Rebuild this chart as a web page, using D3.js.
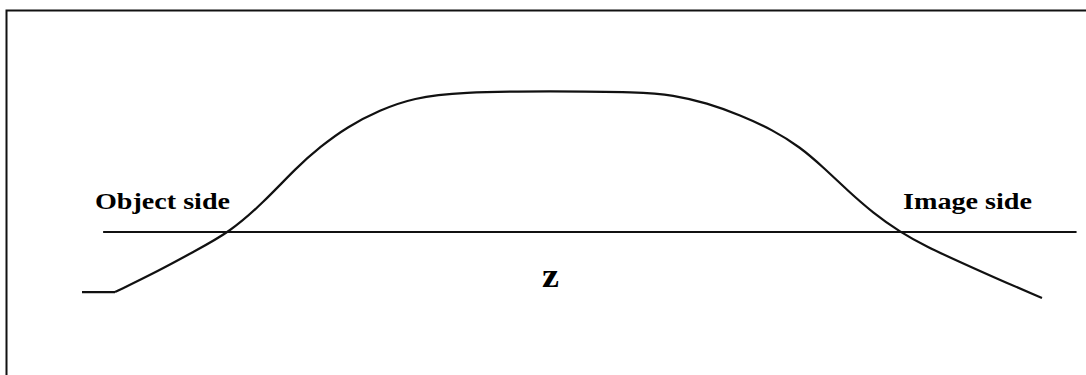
<!DOCTYPE html>
<html>
<head>
<meta charset="utf-8">
<script src="https://cdn.jsdelivr.net/npm/d3@7"></script>
<style>
  html, body { margin: 0; padding: 0; background: #fff; }
  svg { display: block; }
</style>
</head>
<body>
<div id="chart"></div>
<script>
// profile along z (0 = axis level, 1 = plateau)
var zVals = [0, 3.44, 8.13, 11.56, 15.42, 18.85, 22.40, 24.79, 27.60, 31.04, 34.48, 39.38,
             48.75, 58.13, 61.56, 65.10, 68.54, 71.98, 74.79, 77.19, 79.69, 82.40, 85.21,
             88.02, 91.46, 94.90, 100];
var fVals = [-0.426, -0.426, -0.270, -0.142, 0, 0.206, 0.461, 0.603, 0.745, 0.865, 0.950, 0.993,
             1, 0.993, 0.972, 0.915, 0.830, 0.723, 0.603, 0.461, 0.298, 0.135, 0,
             -0.106, -0.213, -0.319, -0.468];
var axisExtent = [2.2, 103.6];
var labels = ["Object side", "Image side", "z"];

var width = 1086, height = 375;

var svg = d3.select("#chart")
  .append("svg")
  .attr("width", width)
  .attr("height", height);

svg.append("rect")
  .attr("width", width)
  .attr("height", height)
  .attr("fill", "#fff");

// frame (only top and left edges show in the picture)
svg.append("rect")
  .attr("x", 6.5)
  .attr("y", 10.5)
  .attr("width", width + 20)
  .attr("height", height + 20)
  .attr("fill", "none")
  .attr("stroke", "#111")
  .attr("stroke-width", 2);

var x = d3.scaleLinear().domain([0, 100]).range([82, 1042]);
var y = d3.scaleLinear().domain([0, 1]).range([232, 91]);

// z axis
svg.append("line")
  .attr("x1", x(axisExtent[0]))
  .attr("x2", x(axisExtent[1]))
  .attr("y1", y(0))
  .attr("y2", y(0))
  .attr("stroke", "#111")
  .attr("stroke-width", 2.2);

var pts = zVals.map(function(z, i) { return [z, fVals[i]]; });

// flat lead-in drawn straight, rest smoothed
var line = d3.line()
  .x(function(d) { return x(d[0]); })
  .y(function(d) { return y(d[1]); })
  .curve(d3.curveBasis);

svg.append("path")
  .datum(pts.slice(0, 2))
  .attr("d", d3.line()
    .x(function(d) { return x(d[0]); })
    .y(function(d) { return y(d[1]); }))
  .attr("fill", "none")
  .attr("stroke", "#111")
  .attr("stroke-width", 2.2);

svg.append("path")
  .datum(pts.slice(1))
  .attr("d", line)
  .attr("fill", "none")
  .attr("stroke", "#111")
  .attr("stroke-width", 2.2);

var font = "'Liberation Serif', 'Times New Roman', serif";

svg.append("text").text(labels[0])
  .attr("x", 95)
  .attr("y", 209)
  .attr("font-family", font)
  .attr("font-weight", "bold")
  .attr("font-size", "24px")
  .attr("textLength", 135)
  .attr("lengthAdjust", "spacingAndGlyphs")
  .attr("fill", "#000");

svg.append("text").text(labels[1])
  .attr("x", 903)
  .attr("y", 209)
  .attr("font-family", font)
  .attr("font-weight", "bold")
  .attr("font-size", "24px")
  .attr("textLength", 129)
  .attr("lengthAdjust", "spacingAndGlyphs")
  .attr("fill", "#000");

svg.append("text").text(labels[2])
  .attr("x", 542)
  .attr("y", 287)
  .attr("font-family", font)
  .attr("font-weight", "bold")
  .attr("font-size", "33px")
  .attr("textLength", 17)
  .attr("lengthAdjust", "spacingAndGlyphs")
  .attr("fill", "#000");
</script>
</body>
</html>
